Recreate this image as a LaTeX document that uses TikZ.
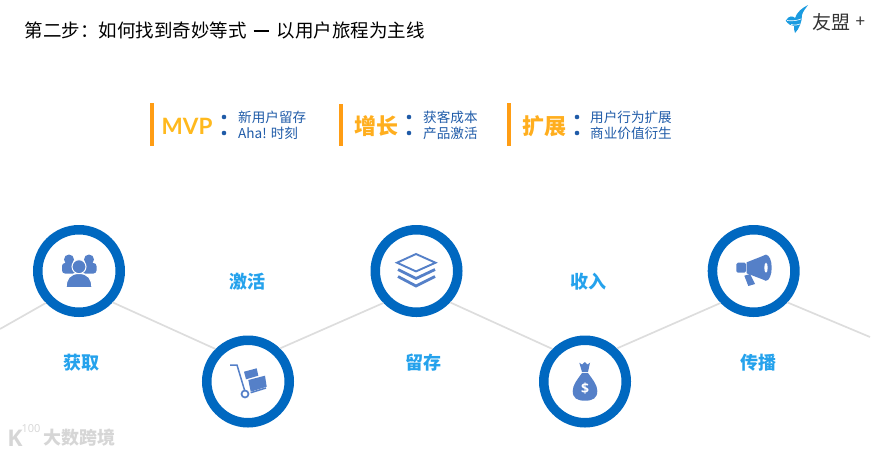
\documentclass[tikz,border=0pt]{standalone}
\usepackage{fontspec}
\setmainfont{Noto Sans CJK SC}
\newfontfamily\latinfont{Open Sans}
\newfontfamily\mvpfont{Lato}
\usepackage{xcolor}
\usetikzlibrary{positioning,calc}
\definecolor{ringblue}{HTML}{0068C0}
\definecolor{labelblue}{HTML}{25A2EC}
\definecolor{iconblue}{HTML}{5580C8}
\definecolor{itemblue}{HTML}{1F5BA8}
\definecolor{headorange}{HTML}{FFAE1E}
\definecolor{mvpyellow}{HTML}{FFB91E}
\definecolor{barorange}{HTML}{FF9D14}
\definecolor{linegray}{HTML}{DDDDDD}
\definecolor{birdblue}{HTML}{1A9BE0}

\begin{document}
\begin{tikzpicture}[
    x=1pt, y=-1pt,
    ring/.style={circle, draw=ringblue, fill=white, line width=9.5pt, minimum size=82.5pt, inner sep=0pt},
    stage/.style={text=labelblue, font=\fontsize{18}{20}\selectfont\bfseries},
    head/.style={text=headorange, anchor=west, inner sep=0pt, font=\fontsize{22}{24}\selectfont\bfseries},
    item/.style={text=itemblue, anchor=west, inner sep=0pt, font=\fontsize{13.6}{15}\selectfont},
    bar/.style={fill=barorange, draw=none},
    dot/.style={fill=itemblue, draw=none},
    link/.style={draw=linegray, line width=1.7pt},
    icon/.style={fill=iconblue, draw=none}
]
    \useasboundingbox (0,0) rectangle (882,453);

    % Title and logo
    \node[anchor=west, inner sep=0pt, font=\fontsize{18.5}{20}\selectfont] (title) at (24.5,30) {第二步：如何找到奇妙等式\hspace{7pt}\rule[5.5pt]{15pt}{1.8pt}\hspace{8pt}以用户旅程为主线};
    \node[anchor=west, inner sep=0pt, text=black!80, font=\fontsize{19}{20}\selectfont] (logo) at (812,22.5) {友盟};
    \node[anchor=west, inner sep=0pt, text=black!80, font=\fontsize{17}{18}\selectfont] (logoplus) at (855.5,22) {+};
    \fill[birdblue] (808,5) .. controls (802,8) and (797,12) .. (795,18) .. controls (793,16) and (789,15) .. (785.7,20.7) .. controls (788,24) and (791,26) .. (794,26) .. controls (794,28) and (794,31) .. (795,33) .. controls (799,29) and (802,22) .. (802,15) .. controls (803,11) and (806,8) .. (808,5) -- cycle;
    \draw[white, line width=.6pt] (787,20.5) .. controls (791,21) and (796,21) .. (801,19);
    \draw[white, line width=.6pt] (791,24.5) .. controls (795,25.5) and (798,25) .. (800,24);

    % Three headings with bars
    \fill[bar] (150,103) rectangle (154,145.5);
    \fill[bar] (339,103.5) rectangle (343,146);
    \fill[bar] (507,103) rectangle (511,146);
    \node[head, text=mvpyellow, font=\mvpfont\fontsize{22.5}{24}\selectfont\bfseries] (mvp) at (161.5,126) {MVP};
    \node[head] (growth) at (354,126) {增长};
    \node[head] (expand) at (522,126) {扩展};

    % Bullets and their lines
    \foreach \x in {224,409,577} {
        \fill[dot] (\x,117) circle (2.3);
        \fill[dot] (\x,133) circle (2.3);
    }
    \node[item] (itema) at (238,117) {新用户留存};
    \node[item] (itemb) at (238,133) {Aha! 时刻};
    \node[item] (itemc) at (423,117) {获客成本};
    \node[item] (itemd) at (423,133) {产品激活};
    \node[item] (iteme) at (590,117) {用户行为扩展};
    \node[item] (itemf) at (590,133) {商业价值衍生};

    % Five rings
    \foreach \n/\x/\y in {1/79/271, 2/248/381.5, 3/416.5/271, 4/585/381.5, 5/753.7/271} {
        \node[ring] (ring\n) at (\x,\y) {};
    }

    % Zigzag line
    \coordinate (linestart) at (0,329);
    \coordinate (lineend) at (870,337);
    \draw[link] (linestart) -- (ring1.224);
    \draw[link] (ring1.-43) -- (ring2.135);
    \draw[link] (ring2.46) -- (ring3.224);
    \draw[link] (ring3.-43) -- (ring4.135);
    \draw[link] (ring4.46) -- (ring5.224);
    \draw[link] (ring5.-43) -- (lineend);

    % Stage labels
    \node[stage] (acquire) at (81,362.5) {获取};
    \node[stage] (activate) at (247,282) {激活};
    \node[stage] (retain) at (423,363) {留存};
    \node[stage] (revenue) at (588,282) {收入};
    \node[stage] (spread) at (758,363) {传播};

    % People icon
    \fill[icon] (69,259.5) circle (5);
    \fill[icon] (89,259.5) circle (5);
    \fill[icon, rounded corners=3pt] (62,263) rectangle (76,273.5);
    \fill[icon, rounded corners=3pt] (82,263) rectangle (96.5,273.5);
    \fill[icon, draw=white, line width=1pt] (79,266.7) circle (7);
    \fill[icon, draw=white, line width=1pt] (66.2,287.5) .. controls (66,279) and (70,273.5) .. (79,273.5) .. controls (88,273.5) and (92,279) .. (91.8,287.5) -- cycle;

    % Cart icon
    \draw[iconblue, line width=1.5pt] (230,365) -- (237,365) -- (244.5,390);
    \draw[iconblue, line width=1.7pt] (245,394) circle (3.5);
    \draw[iconblue, line width=1.5pt] (250.7,392.7) -- (266,388);
    \fill[icon] (248.3,380) -- (265,375.7) -- (266.7,386.7) -- (250.7,391.7) -- cycle;
    \fill[icon] (244,371.7) -- (256.7,368.3) -- (258.3,375.7) -- (246,379.3) -- cycle;

    % Layers icon
    \draw[iconblue, line width=1.9pt] (397,262.7) -- (416,254) -- (435.5,262.7) -- (416,271.4) -- cycle;
    \draw[iconblue, line width=2.8pt] (398,269.5) -- (416,278.5) -- (435,269.5);
    \draw[iconblue, line width=2.8pt] (398,276.5) -- (416,286) -- (435,276.5);

    % Money bag icon
    \fill[icon] (579.3,362.7) -- (582,364.5) -- (584.8,362) -- (587.5,364.5) -- (590,362.7) -- (588,372) -- (582,372) -- cycle;
    \fill[icon] (582,373) .. controls (577,380) and (572.7,385) .. (572.7,391) .. controls (572.7,398) and (577,400.7) .. (585,400.7) .. controls (593,400.7) and (597.3,398) .. (597.3,391) .. controls (597.3,385) and (593,380) .. (588,373) -- cycle;
    \node[text=white, inner sep=0pt, font=\latinfont\fontsize{14}{15}\selectfont\bfseries] (dollar) at (585,388.5) {\$};

    % Megaphone icon
    \fill[icon, rounded corners=1.5pt] (736.3,262.7) rectangle (746,272.7);
    \fill[icon] (746.7,262.3) -- (766,254.7) -- (766,280.7) -- (746.7,273.3) -- cycle;
    \fill[icon] (766,267.7) ellipse [x radius=5.7, y radius=13];
    \fill[white] (766,267.7) ellipse [x radius=1.7, y radius=5];
    \fill[icon] (744.3,275.7) -- (750,274) -- (755,284) -- (748.3,286) -- cycle;

    % Watermark
    \node[inner sep=0pt, text=black!16, font=\latinfont\fontsize{23}{24}\selectfont\bfseries] (markk) at (15,438) {K};
    \node[inner sep=0pt, text=black!16, font=\latinfont\fontsize{11}{12}\selectfont] (markn) at (31,429) {100};
    \node[anchor=west, inner sep=0pt, text=black!16, font=\fontsize{18}{19}\selectfont\bfseries] (mark) at (43,437.5) {大数跨境};
\end{tikzpicture}
\end{document}
